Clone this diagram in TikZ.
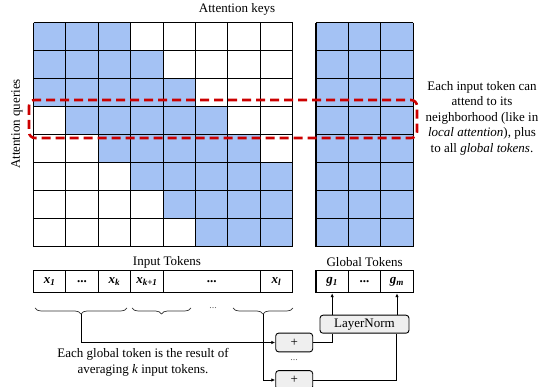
\documentclass[tikz,border=0pt]{standalone}
\usepackage{fontspec}
\setmainfont{Liberation Serif}
\usetikzlibrary{decorations.pathreplacing,arrows.meta}
\definecolor{cellblue}{HTML}{A4C2F4}
\definecolor{dred}{HTML}{CC0000}
\definecolor{boxgray}{HTML}{EFEFEF}
\newcommand{\tokx}[2]{{\bfseries\itshape #1\textsubscript{#2}}}
\tikzset{
  lbl/.style={font=\fontsize{13}{15.5}\selectfont, inner sep=0pt},
  tokcell/.style={draw, line width=1.1pt, minimum height=22pt, inner sep=0pt, font=\fontsize{13}{15}\selectfont},
  opbox/.style={draw, line width=0.9pt, rounded corners=3pt, fill=boxgray, inner sep=0pt, font=\fontsize{13}{15}\selectfont},
  brc/.style={draw=black!80, line width=0.7pt, decorate, decoration={brace, mirror, amplitude=6pt}},
  conn/.style={draw, line width=0.8pt},
  arr/.style={draw, line width=0.8pt, -{Latex[length=4pt,width=3.5pt]}},
}
\begin{document}
\begin{tikzpicture}[x=1pt, y=-1pt]
\useasboundingbox (0,0) rectangle (539,387);
% main attention grid
\foreach \r in {0,...,7} {
  \foreach \c in {0,...,7} {
    \pgfmathtruncatemacro{\d}{abs(\r-\c)}
    \ifnum\d<3
      \fill[cellblue] (33.5+\c*32.4, 22.7+\r*28) rectangle ++(32.4,28);
    \fi
  }
}
\foreach \c in {0,...,8} \draw[line width=1.1pt] (33.5+\c*32.4, 22.7) -- (33.5+\c*32.4, 246.7);
\foreach \r in {0,...,8} \draw[line width=1.1pt] (33.5, 22.7+\r*28) -- (292.7, 22.7+\r*28);
% global grid
\fill[cellblue] (316,22.7) rectangle (413.2,246.7);
\foreach \c in {0,...,3} \draw[line width=1.1pt] (316+\c*32.4, 22.7) -- (316+\c*32.4, 246.7);
\foreach \r in {0,...,8} \draw[line width=1.1pt] (316, 22.7+\r*28) -- (413.2, 22.7+\r*28);
% red dashed highlight
\draw[dred, line width=2.6pt, dash pattern=on 9pt off 5pt, rounded corners=6pt] (29,100) rectangle (417,138);
% labels
\node[lbl] (keys) at (237,9) {Attention keys};
\node[lbl, rotate=90] (queries) at (17,124) {Attention queries};
\node[lbl, align=center] (expl) at (482,118) {Each input token can\\attend to its\\neighborhood (like in\\\textit{local attention}), plus\\to all \textit{global tokens}.};
\node[lbl] (inlbl) at (167,262) {Input Tokens};
\node[lbl] (glbl) at (364.6,262) {Global Tokens};
% input tokens
\node[tokcell, minimum width=32.4pt] (x1) at (49.7,281.7) {\tokx{x}{1}};
\node[tokcell, minimum width=32.4pt] (xd1) at (82.1,281.7) {\textbf{...}};
\node[tokcell, minimum width=32.4pt] (xk) at (114.5,281.7) {\tokx{x}{k}};
\node[tokcell, minimum width=32.4pt] (xk1) at (146.9,281.7) {\tokx{x}{k+1}};
\node[tokcell, minimum width=97.2pt] (xd2) at (211.7,281.7) {\textbf{...}};
\node[tokcell, minimum width=32.4pt] (xl) at (276.5,281.7) {\tokx{x}{l}};
% global tokens
\node[tokcell, minimum width=32.4pt] (g1) at (332.2,281.7) {\tokx{g}{1}};
\node[tokcell, minimum width=32.4pt] (gd) at (364.6,281.7) {\textbf{...}};
\node[tokcell, minimum width=32.4pt] (gm) at (397,281.7) {\tokx{g}{m}};
% braces
\draw[brc] (35,308) -- (127,308);
\draw[brc] (132,308) -- (191,308);
\draw[brc] (233,308) -- (293,308);
\coordinate (b1) at (81,314);
\coordinate (b3) at (263,314);
\node[lbl, text=black!60, font=\fontsize{10}{12}\selectfont] (bdots) at (213,308) {...};
% ops
\node[opbox, minimum width=37pt, minimum height=18.8pt] (p1) at (294.2,342.5) {+};
\node[opbox, minimum width=37pt, minimum height=18.8pt] (p2) at (294.2,380) {+};
\node[lbl, text=black!60, font=\fontsize{10}{12}\selectfont] (pdots) at (294.2,360) {...};
\node[opbox, minimum width=89pt, minimum height=18pt] (ln) at (364.5,324.2) {LayerNorm};
\node[lbl, align=center] (avg) at (143,362.5) {Each global token is the result of\\averaging \textit{k} input tokens.};
% connectors
\draw[arr] (b1) |- (p1.west);
\draw[arr] (b3) |- (p2.west);
\draw[conn] (p1.east) -| (ln.south -| 332.7,0);
\draw[conn] (p2.east) -| (ln.south -| 396,0);
\draw[arr] (ln.north -| g1) -- (g1.south);
\draw[arr] (ln.north -| gm) -- (gm.south);
\end{tikzpicture}
\end{document}
